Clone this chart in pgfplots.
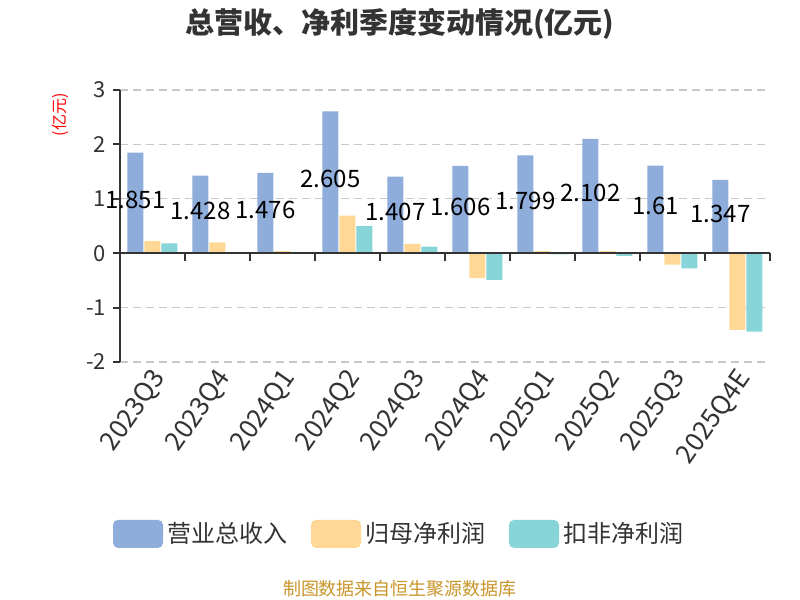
\documentclass[border=0pt]{standalone}
\usepackage{fontspec}
\setmainfont{Noto Sans CJK SC}
\usepackage{pgfplots}
\pgfplotsset{compat=1.18}

\definecolor{cRev}{HTML}{8EADDB}
\definecolor{cNet}{HTML}{FFD896}
\definecolor{cDed}{HTML}{87D5D9}
\definecolor{axisgray}{HTML}{333333}
\definecolor{txtgray}{HTML}{333333}
\definecolor{gridgray}{HTML}{C8C8C8}
\definecolor{gold}{HTML}{C8962A}

\begin{document}
\begin{tikzpicture}
\path[use as bounding box, fill=white] (0,0) rectangle (400pt,300pt);

\begin{axis}[
  at={(60pt,119pt)}, anchor=south west, scale only axis,
  width=325pt, height=136pt,
  xmin=-0.5, xmax=9.5, ymin=-2, ymax=3,
  ybar=0.5pt, bar width=8pt,
  axis y line*=left, axis x line*=bottom,
  x axis line style={draw=none}, xtick style={draw=none},
  y axis line style={-, line width=1pt, color=axisgray},
  ytick style={line width=1pt, color=axisgray},
  tick align=outside, major tick length=3.5pt,
  xtick={0,...,9},
  xticklabels={2023Q3,2023Q4,2024Q1,2024Q2,2024Q3,2024Q4,2025Q1,2025Q2,2025Q3,2025Q4E},
  xticklabel style={rotate=55, anchor=east, font=\fontsize{13}{13}\selectfont, text=txtgray, inner sep=1pt, yshift=-4.5pt, xshift=1.5pt},
  ytick={-2,-1,0,1,2,3},
  yticklabel style={font=\fontsize{11}{11}\selectfont, text=txtgray},
  /pgf/number format/assume math mode=true,
  ymajorgrids,
  major grid style={dash pattern=on 4pt off 2.5pt, color=gridgray, line width=0.6pt},
  legend style={at={(0.4308,-0.632)}, anchor=center, draw=none, fill=none,
    legend columns=3, font=\fontsize{12}{12}\selectfont, text=txtgray,
    /tikz/every even column/.append style={column sep=10pt}},
  legend image code/.code={\fill[#1, draw=none, rounded corners=2.5pt] (0pt,-7pt) rectangle (25pt,7pt);},
]
\addplot[fill=cRev, draw=none,
  nodes near coords, point meta=explicit symbolic,
  visualization depends on={y \as \rawy},
  every node near coord/.append style={anchor=center, text=black,
    font=\fontsize{12}{12}\selectfont, yshift={-13.6pt*\rawy+1.5pt}}]
  coordinates {(0,1.851)[1.851] (1,1.428)[1.428] (2,1.476)[1.476] (3,2.605)[2.605] (4,1.407)[1.407]
               (5,1.606)[1.606] (6,1.799)[1.799] (7,2.102)[2.102] (8,1.61)[1.61] (9,1.347)[1.347]};
\addplot[fill=cNet, draw=none]
  coordinates {(0,0.22) (1,0.20) (2,0.04) (3,0.69) (4,0.17)
               (5,-0.46) (6,0.04) (7,0.04) (8,-0.21) (9,-1.41)};
\addplot[fill=cDed, draw=none]
  coordinates {(0,0.18) (1,0.01) (2,0.01) (3,0.50) (4,0.12)
               (5,-0.49) (6,-0.02) (7,-0.05) (8,-0.28) (9,-1.44)};
\legend{营业总收入,归母净利润,扣非净利润}
\end{axis}

% zero line with ticks between categories
\begin{axis}[
  at={(60pt,119pt)}, anchor=south west, scale only axis,
  width=325pt, height=136pt,
  xmin=-0.5, xmax=9.5, ymin=-2, ymax=3,
  axis x line=middle, axis y line=none,
  x axis line style={-, line width=1pt, color=axisgray},
  xtick={-0.5,0.5,...,9.5}, xticklabels={},
  xtick style={line width=1pt, color=axisgray},
  tick align=outside, major tick length=4pt,
]
\addplot[draw=none] coordinates {(0,0)};
\end{axis}

\node[font=\bfseries\fontsize{14.5}{14.5}\selectfont, text=txtgray] at (200pt,288pt) {总营收、净利季度变动情况(亿元)};
\node[rotate=90, font=\fontsize{8}{8}\selectfont, text=red] at (30pt,242.5pt) {(亿元)};
\node[font=\fontsize{9}{9}\selectfont, text=gold] at (200pt,5.5pt) {制图数据来自恒生聚源数据库};
\end{tikzpicture}
\end{document}
